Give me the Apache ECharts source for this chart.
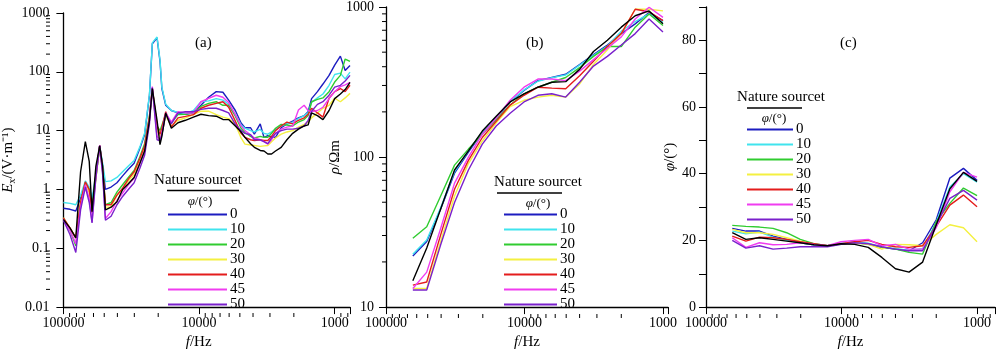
<!DOCTYPE html>
<html>
<head>
<meta charset="utf-8">
<script src="https://cdn.jsdelivr.net/npm/echarts@6/dist/echarts.min.js"></script>
<style>
    html, body { margin: 0; padding: 0; background: #fff; }
    #chart { width: 998px; height: 355px; }
</style>
</head>
<body>
<div id="chart"></div>
<script>
    // legend names and colours (black = "Nature sourcet")
    var angles = ['0', '10', '20', '30', '40', '45', '50'];
    var colors = ['#1c1cc0', '#40e4ee', '#30cc30', '#f4f040', '#e41c1c', '#f03cf0', '#7a20cc'];

    // (a) Ex amplitude vs frequency
    var freqA = [100000, 89300, 81000, 74700, 68900, 64500, 61500, 57600, 54000, 51400, 49000, 44500, 40300, 36600, 33200, 30100, 27300, 25200, 23200, 22100, 20400, 19400, 18800, 17600, 16000, 14300, 12600, 11000, 9680, 8500, 7470, 6670, 6050, 5400, 4900, 4590, 4170, 3910, 3540, 3320, 3110, 2920, 2730, 2480, 2250, 2040, 1850, 1680, 1570, 1480, 1340, 1220, 1100, 1000, 908, 837, 771];
    var exBlack = [0.31, 0.22, 0.15, 2.0, 6.5, 3.0, 0.42, 2.5, 5.5, 2.5, 0.45, 0.5, 0.62, 1.0, 1.25, 1.6, 2.8, 4.5, 15, 52, 15, 5.8, 8, 20, 11, 13.6, 15, 17, 19, 18, 17.6, 15.5, 15.4, 12, 9.5, 7.7, 6, 5.2, 4.6, 4.5, 4.0, 4.0, 4.5, 5.2, 7, 9, 10.6, 12, 12.5, 20, 18, 15.4, 22, 35, 42, 50, 66];
    var ex0 = [0.48, 0.46, 0.43, 0.7, 1.3, 1.0, 0.6, 1.6, 5.5, 2.5, 1.0, 1.1, 1.3, 1.7, 2.2, 2.8, 5.0, 8.5, 40, 300, 380, 150, 52, 27, 22, 20, 19, 20, 27, 37, 46, 45, 33, 22, 13.5, 11.2, 11.2, 8.7, 13, 7.7, 8.2, 7.8, 7.7, 11.2, 13, 14.5, 16.5, 18, 21, 35, 46, 62, 87, 130, 185, 105, 128];
    var ex10 = [0.6, 0.58, 0.55, 0.8, 1.4, 1.1, 0.7, 1.8, 5.5, 2.8, 1.36, 1.4, 1.6, 2.0, 2.5, 3.1, 5.3, 9, 42, 310, 390, 160, 55, 28, 22, 20.5, 19.5, 22, 31, 32, 35, 33, 28, 19, 12.5, 11, 10, 9.5, 10.5, 9, 8.7, 9.5, 10.5, 12, 13, 14, 16, 18, 20, 30, 36, 42, 59, 90, 95, 76, 99];
    var ex20 = [0.33, 0.2, 0.11, 0.6, 1.3, 1.0, 0.45, 1.6, 5.4, 2.2, 0.55, 0.6, 0.9, 1.2, 1.6, 2.1, 3.6, 6, 18, 52, 12, 10, 10.5, 19, 13.6, 18.7, 19, 20, 25.8, 29, 31, 27, 27, 17.6, 11, 9.3, 8, 7.5, 8, 7.7, 7.7, 9, 11, 12.8, 12.5, 12, 14, 15.4, 18, 31, 34, 36, 46, 67, 87, 165, 150];
    var ex30 = [0.33, 0.22, 0.15, 0.6, 1.2, 0.9, 0.42, 1.5, 5.3, 2.0, 0.5, 0.5, 0.8, 1.0, 1.4, 1.8, 3.2, 5, 16, 50, 10, 8, 9, 18, 12, 15, 16.5, 18.7, 21.4, 21.4, 18.7, 17, 16, 12.8, 7.5, 5.9, 5.7, 5.6, 5.4, 5.5, 5.6, 6.5, 7.5, 8.7, 9.5, 10, 11.5, 12.8, 14, 16.5, 20, 24, 27, 35.5, 31, 36, 43];
    var ex40 = [0.33, 0.22, 0.15, 0.6, 1.35, 1.0, 0.4, 1.8, 5.6, 2.4, 0.55, 0.55, 0.8, 1.05, 1.5, 2.0, 3.4, 5.5, 17, 53, 12, 8.7, 11, 21, 11.5, 16.5, 17.5, 18.7, 24, 27, 29, 31, 25, 14.5, 9, 7.7, 7, 6.8, 7, 6.8, 6.8, 8, 10, 12, 14, 13, 15, 16.5, 19, 24, 20, 17, 35.5, 46, 52, 46, 59];
    var ex45 = [0.31, 0.2, 0.12, 0.5, 1.2, 0.7, 0.28, 1.8, 5.6, 2.0, 0.32, 0.42, 0.65, 0.87, 1.2, 1.55, 2.8, 4.5, 15, 56, 8, 7, 9, 20, 14, 21, 20, 20, 31, 35.5, 40, 37, 30, 18.7, 12, 10, 8.5, 7.5, 7, 6.5, 5.9, 7, 9, 10.6, 11.5, 12, 22.5, 27, 22, 21, 22, 25, 35, 46, 56, 60, 66];
    var ex50 = [0.3, 0.17, 0.085, 0.45, 1.1, 0.6, 0.27, 1.6, 5.5, 1.8, 0.3, 0.35, 0.55, 0.76, 1.0, 1.3, 2.3, 3.8, 13, 54, 7, 6.8, 8.5, 19, 13, 20, 21, 21, 23, 24, 24, 22, 20, 12.8, 10, 9, 8.5, 7, 7, 6.5, 6, 7.5, 9, 10, 10.6, 10.6, 11, 12, 15, 21.4, 28, 31, 40, 55, 59, 70, 87];

    // (b) apparent resistivity, (c) phase
    var freqBC = [64000, 50800, 40300, 32000, 25400, 20160, 16000, 12700, 10080, 8000, 6350, 5040, 4000, 3175, 2520, 2000, 1587, 1260, 1000];
    var rhoBlack = [15.0, 24.8, 45, 82, 110, 149, 187, 233, 264, 292, 315, 318, 384, 505, 601, 734, 874, 942, 772];
    var rho0 = [21.9, 27.4, 45, 78, 108, 145, 182, 233, 278, 323, 339, 356, 414, 481, 558, 665, 772, 918, 811];
    var rho10 = [22.5, 28, 46, 80, 110, 147, 184, 235, 280, 320, 338, 352, 410, 476, 550, 690, 800, 900, 790];
    var rho20 = [28.8, 34.3, 55, 88.3, 113, 142, 177, 222, 264, 292, 315, 339, 394, 469, 545, 545, 734, 897, 753];
    var rho30 = [13.3, 13.3, 27.4, 55, 90.5, 128, 169, 217, 239, 251, 258, 251, 307, 414, 518, 665, 966, 966, 942];
    var rho40 = [14, 14.7, 30.3, 61, 95, 135, 173, 222, 258, 292, 288, 285, 348, 435, 545, 665, 966, 930, 811];
    var rho45 = [13.3, 17.1, 33.4, 67, 100, 142, 182, 239, 292, 331, 331, 323, 374, 446, 531, 632, 832, 997, 853];
    var rho50 = [13.0, 13.0, 26, 49.8, 82, 122, 161, 196, 233, 258, 264, 251, 315, 404, 469, 558, 665, 832, 681];

    var phiBlack = [22.3, 20.3, 20.8, 20.3, 19.8, 19.3, 18.7, 18.4, 19.0, 18.8, 17.9, 14.9, 11.5, 10.5, 13.5, 24.7, 35.5, 40.4, 37.7];
    var phi0 = [23.6, 22.8, 22.8, 21.3, 20.3, 19.3, 18.7, 18.4, 19.0, 19.6, 19.0, 17.9, 17.4, 16.9, 19.3, 26.2, 38.7, 41.6, 38.0];
    var phi10 = [22.8, 22, 22.5, 21, 20, 19.3, 18.7, 18.4, 19.2, 19.5, 19.2, 18, 17.6, 17, 17.5, 25.5, 36, 40, 37.5];
    var phi20 = [24.5, 24.2, 24.0, 23.6, 22.3, 20.3, 19.0, 18.4, 18.8, 19.3, 18.8, 17.9, 17.4, 16.4, 15.9, 25.7, 31.1, 35.7, 33.4];
    var phi30 = [23.3, 22.3, 22.3, 21.8, 20.8, 19.8, 18.8, 18.4, 19.0, 19.3, 18.8, 17.4, 18.8, 18.7, 18.4, 21.8, 24.7, 23.8, 19.6];
    var phi40 = [21.3, 19.8, 21.0, 20.8, 20.3, 19.6, 19.0, 18.4, 19.0, 19.6, 20.0, 18.8, 18.1, 17.9, 18.4, 24.2, 30.6, 33.6, 30.1];
    var phi45 = [20.8, 17.9, 19.3, 18.7, 18.8, 19.3, 18.8, 18.4, 19.6, 20.0, 20.3, 18.4, 18.8, 17.4, 17.4, 23.8, 34.6, 40.4, 39.0];
    var phi50 = [20.0, 17.7, 18.4, 17.4, 17.7, 18.1, 18.1, 18.1, 18.8, 19.3, 19.0, 18.1, 17.4, 16.9, 16.9, 24.7, 32.6, 35.0, 32.1];

    // minor (log) tick values
    var minorFreq = [90000, 80000, 70000, 60000, 50000, 40000, 30000, 20000, 9000, 8000, 7000, 6000, 5000, 4000, 3000, 2000, 900, 800];
    var minorEx = [0.02, 0.03, 0.04, 0.05, 0.06, 0.07, 0.08, 0.09, 0.2, 0.3, 0.4, 0.5, 0.6, 0.7, 0.8, 0.9, 2, 3, 4, 5, 6, 7, 8, 9, 20, 30, 40, 50, 60, 70, 80, 90, 200, 300, 400, 500, 600, 700, 800, 900];
    var minorRho = [20, 30, 40, 50, 60, 70, 80, 90, 200, 300, 400, 500, 600, 700, 800, 900];

    var FONT = 'Liberation Serif';
    var gridRects = [
        { left: 50, top: 13, width: 300, height: 300 },
        { left: 386, top: 6, width: 282, height: 308 },
        { left: 706, top: 7, width: 289, height: 307 }
    ];
    var lowestFreq = [771, 920, 737];
    var xNameShift = [16, 0, 0];
    var panelsEx = [ex0, ex10, ex20, ex30, ex40, ex45, ex50];
    var panelsRho = [rho0, rho10, rho20, rho30, rho40, rho45, rho50];
    var panelsPhi = [phi0, phi10, phi20, phi30, phi40, phi45, phi50];

    function logLabel(v) {
        var l = Math.log10(v);
        if (Math.abs(l - Math.round(l)) > 1e-6) return '';
        return String(+v.toPrecision(3));
    }

    function lineSeries(name, color, xs, ys, idx) {
        return {
            name: name, type: 'line', xAxisIndex: idx, yAxisIndex: idx,
            data: xs.map(function (f, i) { return [f, ys[i]]; }),
            symbol: 'none', showSymbol: false,
            lineStyle: { color: color, width: 1.4 },
            itemStyle: { color: color },
            z: 3
        };
    }

    function nameStyle(pad) {
        return {
            fontFamily: FONT, fontSize: 15, color: '#000', padding: pad,
            rich: { i: { fontStyle: 'italic', fontFamily: FONT, fontSize: 15 }, s: { fontFamily: FONT, fontSize: 10, padding: [8, 0, 0, 0] } }
        };
    }

    var axisCommon = {
        axisLine: { lineStyle: { color: '#000', width: 1.3 } },
        axisTick: { length: 7, lineStyle: { color: '#000', width: 1 } },
        splitLine: { show: false },
        nameTextStyle: nameStyle(0)
    };

    function xAxis(idx) {
        return Object.assign({}, axisCommon, {
            type: 'log', gridIndex: idx, inverse: true, min: lowestFreq[idx], max: 100000, logBase: 10,
            name: '{i|f}/Hz', nameLocation: 'middle', nameGap: 24,
            nameTextStyle: nameStyle([0, xNameShift[idx], 0, 0]),
            axisLabel: { formatter: logLabel, fontFamily: FONT, fontSize: 14, color: '#000', margin: 9, showMinLabel: true, showMaxLabel: true }
        });
    }

    var chart = echarts.init(document.getElementById('chart'));
    var series = [];
    var xsByPanel = [freqA, freqBC, freqBC];
    var ysByPanel = [panelsEx, panelsRho, panelsPhi];
    var blackByPanel = [exBlack, rhoBlack, phiBlack];
    [0, 1, 2].forEach(function (g) {
        angles.forEach(function (a, k) {
            series.push(lineSeries(a, colors[k], xsByPanel[g], ysByPanel[g][k], g));
        });
        series.push(lineSeries('Nature sourcet', '#000', xsByPanel[g], blackByPanel[g], g));
    });

    function legend(left, top, w) {
        return {
            data: angles, orient: 'vertical', left: left, top: top, padding: 0,
            itemWidth: w, itemHeight: 2, itemGap: 0, icon: 'rect', selectedMode: false,
            textStyle: { fontFamily: FONT, fontSize: 15, color: '#000', lineHeight: 13.6, padding: [0, 0, 0, -2] }
        };
    }

    function legendHead(cx, cy, lx1, lx2, ly, px, py) {
        return [
            { type: 'text', x: cx, y: cy, style: { text: 'Nature sourcet', font: '15px "Liberation Serif"', fill: '#000', align: 'center', verticalAlign: 'middle' } },
            { type: 'line', shape: { x1: lx1, y1: ly, x2: lx2, y2: ly }, style: { stroke: '#000', lineWidth: 1.4 } },
            { type: 'text', x: px, y: py, style: { text: '{i|φ}/(°)', rich: { i: { fontStyle: 'italic', fontFamily: FONT, fontSize: 13 } }, font: '13px "Liberation Serif"', fill: '#000', align: 'center', verticalAlign: 'middle' } }
        ];
    }
    var heads = [].concat(
        legendHead(198, 180, 167, 239, 190.5, 200, 202),
        legendHead(538, 182, 497, 562, 193, 538, 204),
        legendHead(781, 97, 747, 802, 108, 774, 119)
    );

    chart.setOption({
        animation: false,
        title: [
            { text: '(a)', left: 190, top: 31, textStyle: { fontFamily: FONT, fontSize: 15, fontWeight: 'normal', color: '#000' } },
            { text: '(b)', left: 521, top: 31, textStyle: { fontFamily: FONT, fontSize: 15, fontWeight: 'normal', color: '#000' } },
            { text: '(c)', left: 835, top: 31, textStyle: { fontFamily: FONT, fontSize: 15, fontWeight: 'normal', color: '#000' } }
        ],
        grid: gridRects,
        xAxis: [xAxis(0), xAxis(1), xAxis(2)],
        yAxis: [
            Object.assign({}, axisCommon, {
                type: 'log', gridIndex: 0, min: 0.01, max: 1000, logBase: 10,
                name: '{i|E}{s|x}/(V·m⁻¹)', nameLocation: 'middle', nameGap: 28,
                axisLabel: { formatter: logLabel, fontFamily: FONT, fontSize: 14, color: '#000', margin: 14, showMinLabel: true }
            }),
            Object.assign({}, axisCommon, {
                type: 'log', gridIndex: 1, min: 10, max: 1000, logBase: 10,
                name: '{i|ρ}/Ωm', nameLocation: 'middle', nameGap: 37,
                axisLabel: { formatter: logLabel, fontFamily: FONT, fontSize: 14, color: '#000', margin: 12, showMinLabel: true }
            }),
            Object.assign({}, axisCommon, {
                type: 'value', gridIndex: 2, min: 0, max: 90, interval: 10,
                name: '{i|φ}/(°)', nameLocation: 'middle', nameGap: 28,
                axisLabel: { formatter: function (v) { return v % 20 === 0 && v <= 80 ? String(v) : ''; }, fontFamily: FONT, fontSize: 14, color: '#000', margin: 10, showMinLabel: true }
            })
        ],
        legend: [legend(168, 207, 59), legend(504, 207, 53), legend(747, 122, 46)],
        graphic: heads,
        series: series
    });

    // log minor ticks, placed through the axes' own scales
    var ticks = [];
    [0, 1, 2].forEach(function (g) {
        var r = gridRects[g];
        var y0 = r.top + r.height;
        minorFreq.forEach(function (f) {
            if (f < lowestFreq[g]) return;
            var px = chart.convertToPixel({ xAxisIndex: g }, f);
            ticks.push({ type: 'line', silent: true, shape: { x1: px, y1: y0, x2: px, y2: y0 + 4 }, style: { stroke: '#000', lineWidth: 1 } });
        });
    });
    [[0, minorEx], [1, minorRho]].forEach(function (pair) {
        var g = pair[0], x0 = gridRects[g].left;
        pair[1].forEach(function (v) {
            var py = chart.convertToPixel({ yAxisIndex: g }, v);
            ticks.push({ type: 'line', silent: true, shape: { x1: x0 - 4, y1: py, x2: x0, y2: py }, style: { stroke: '#000', lineWidth: 1 } });
        });
    });
    chart.setOption({ graphic: heads.concat(ticks) });
</script>
</body>
</html>
